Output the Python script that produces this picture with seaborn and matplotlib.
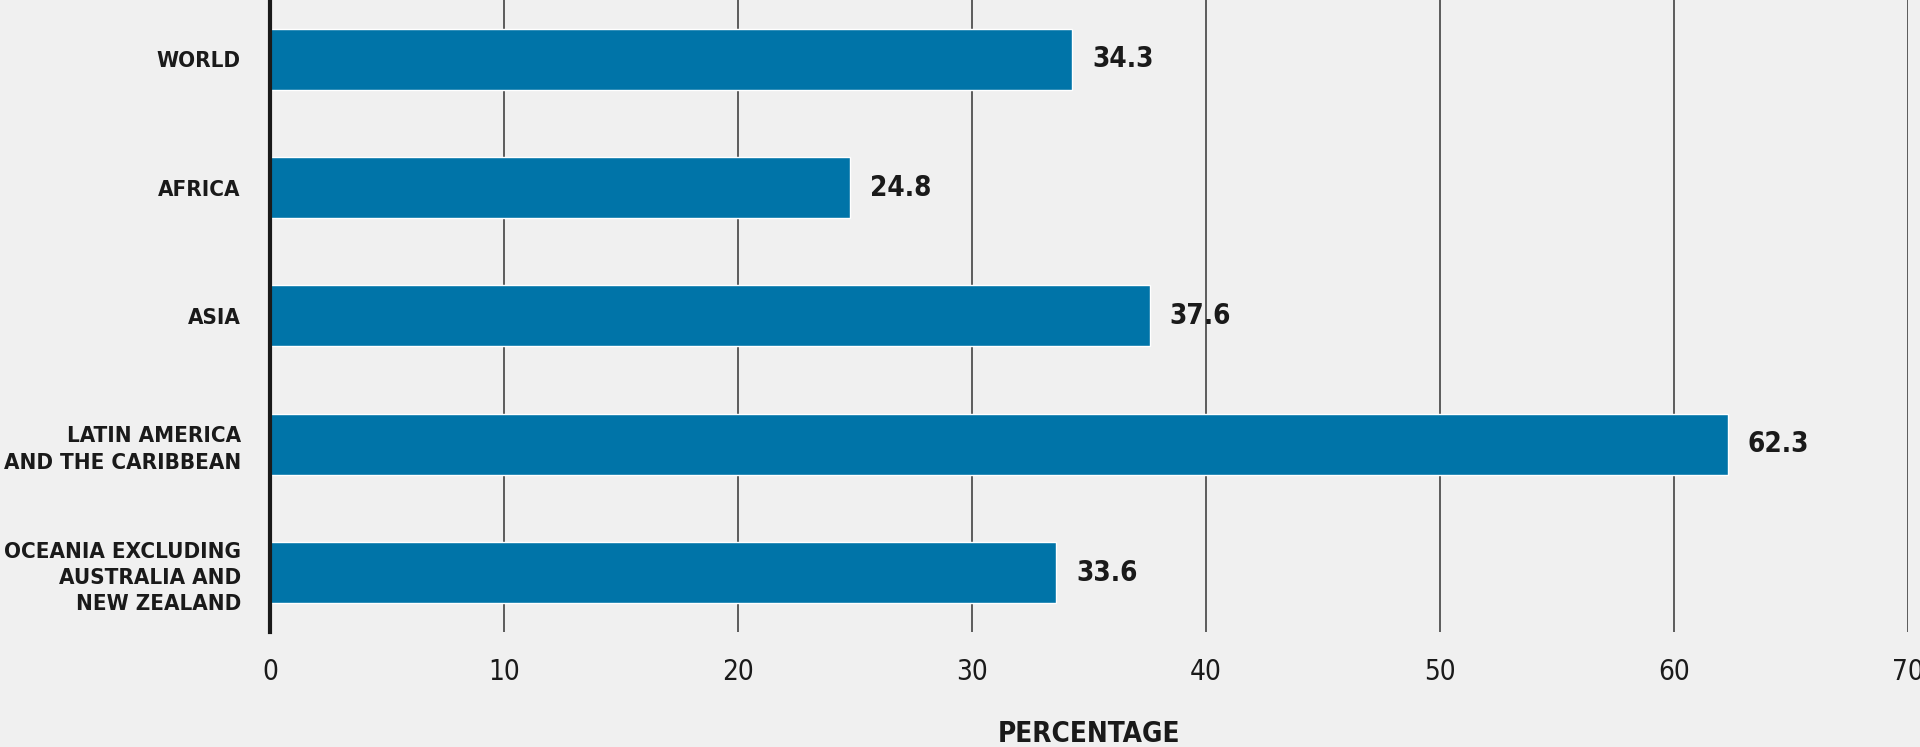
import numpy as np
import pandas as pd

import matplotlib
matplotlib.use("Agg")

import matplotlib.pyplot as plt
import seaborn as sns

# données
regions = [
    "WORLD",
    "AFRICA",
    "ASIA",
    "LATIN AMERICA\nAND THE CARIBBEAN",
    "OCEANIA EXCLUDING\nAUSTRALIA AND\nNEW ZEALAND",
]
percentages = [34.3, 24.8, 37.6, 62.3, 33.6]
x_ticks = [0, 10, 20, 30, 40, 50, 60, 70]

BG = "#f0f0f0"
BAR = "#0074a8"
TXT = "#1a1a1a"

sns.set_style("white")
plt.rcParams["font.family"] = ["DejaVu Sans"]
plt.rcParams["font.stretch"] = "condensed"

df = pd.DataFrame({"region": regions, "pct": percentages})

fig = plt.figure(figsize=(19.2, 7.47), dpi=100, facecolor=BG)
ax = fig.add_axes([0.1406, 0.154, 0.8530, 0.846])
ax.set_facecolor(BG)

sns.barplot(data=df, x="pct", y="region", orient="h", color=BAR,
            saturation=1, width=0.475, ax=ax, zorder=2)

ax.set_xlim(0, 70)
ax.set_ylim(4.46, -0.46)
ax.set_xticks(x_ticks)
ax.set_xticklabels([str(t) for t in x_ticks], fontsize=20, color=TXT)
ax.tick_params(axis="x", length=0, pad=19)
ax.tick_params(axis="y", length=0, pad=21)
for lab in ax.get_yticklabels():
    lab.set_fontsize(16)
    lab.set_fontweight("bold")
    lab.set_color(TXT)
    lab.set_linespacing(1.4)

# lignes verticales
for t in x_ticks[1:]:
    ax.axvline(t, color="#333333", lw=1.1, zorder=1)

for s in ["top", "right", "bottom"]:
    ax.spines[s].set_visible(False)
ax.spines["left"].set_color(TXT)
ax.spines["left"].set_linewidth(3)
ax.spines["left"].set_zorder(3)

# étiquettes de valeur
for i, v in enumerate(percentages):
    ax.text(v + 0.85, i, f"{v:.1f}", va="center", ha="left",
            fontsize=20, fontweight="bold", color=TXT)

ax.set_xlabel("PERCENTAGE", fontsize=20, fontweight="bold", color=TXT,
              labelpad=24)
ax.set_ylabel("")

fig.savefig("out.png", dpi=100, facecolor=BG)
plt.close(fig)
